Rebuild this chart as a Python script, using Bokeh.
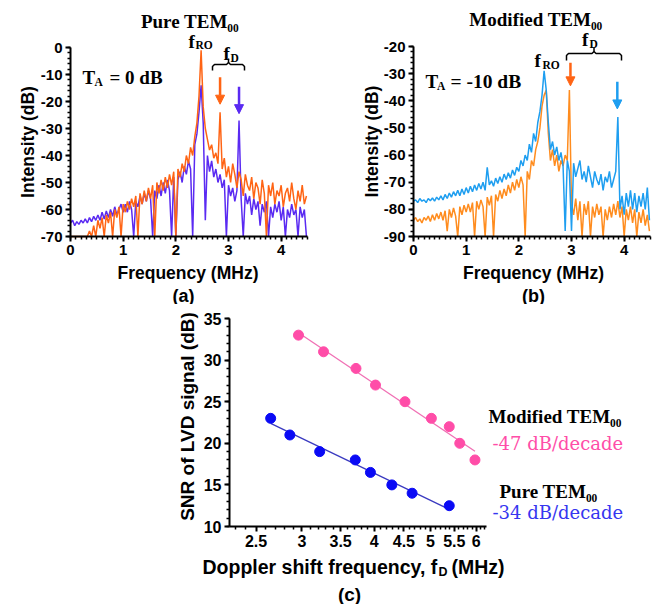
import math
import numpy as np
from bokeh.plotting import figure
from bokeh.layouts import column, row
from bokeh.models import (Label, Arrow, NormalHead, SingleIntervalTicker, FixedTicker,
                          Range1d, CustomJSTickFormatter)
from bokeh.embed import file_html
from bokeh.resources import INLINE

# ---------------- data ----------------
FREQ = [0.00, 0.04, 0.08, 0.12, 0.16, 0.20, 0.24, 0.28, 0.32, 0.36, 0.40, 0.44, 0.48,
        0.52, 0.56, 0.60, 0.64, 0.68, 0.72, 0.76, 0.80, 0.84, 0.88, 0.92, 0.96, 1.00,
        1.04, 1.08, 1.12, 1.16, 1.20, 1.24, 1.28, 1.32, 1.36, 1.40, 1.44, 1.48,
        1.52, 1.56, 1.60, 1.64, 1.68, 1.72, 1.76, 1.80, 1.84, 1.88, 1.92, 1.96, 2.00,
        2.04, 2.08, 2.12, 2.16, 2.20, 2.24, 2.28, 2.32,
        2.36, 2.40, 2.44, 2.48, 2.52, 2.56, 2.60, 2.64, 2.68, 2.72, 2.76, 2.80,
        2.84, 2.88, 2.92, 2.96, 3.00, 3.04, 3.08, 3.12, 3.16, 3.20, 3.24, 3.28,
        3.32, 3.36, 3.40, 3.44, 3.48, 3.52, 3.56, 3.60, 3.64, 3.68, 3.72, 3.76,
        3.80, 3.84, 3.88, 3.92, 3.96, 4.00, 4.04, 4.08, 4.12, 4.16, 4.20, 4.24,
        4.28, 4.32, 4.36, 4.40, 4.44, 4.48]

# (a) Pure TEM00, T_A = 0 dB  (values at the -70 dB floor are clipped by the display)
PURE_PURPLE = [-65, -64, -66, -64.5, -65.5, -64, -65, -63.5, -65, -63, -64.5, -62.5, -64,
               -62, -64, -61, -63.5, -60.5, -63, -60, -62.5, -59, -62, -60, -58, -61,
               -58, -61, -57, -60, -70, -57, -59, -55, -58, -54, -57, -53,
               -56, -70, -53, -56, -51, -55, -50, -54, -49, -53, -70, -48, -70,
               -49, -46, -50, -44, -47, -42, -45, -70,
               -36, -32, -24, -14, -28, -64, -40, -46, -42, -48, -45, -50,
               -47, -52, -49, -70, -51, -55, -52, -57, -53, -27, -56, -70,
               -54, -58, -55, -62, -56, -60, -57, -66, -58, -61, -57, -70,
               -59, -63, -58, -61, -57, -64, -59, -70, -60, -63, -58, -62,
               -60, -70, -59, -63, -60, -70]
PURE_ORANGE = [-70, -70, -70, -70, -70, -70, -70, -70, -70,
               -68, -70, -66, -70, -64, -67, -63, -70, -62, -65, -61, -70,
               -60, -63, -59, -70, -58, -61, -57, -60, -56, -59, -55, -70,
               -54, -58, -53, -57, -52, -56, -51, -70, -50, -54, -49, -53,
               -48, -52, -47, -51, -46, -70, -45, -48, -43, -46, -40, -43, -37, -40,
               -33, -28, -18, -1, -22, -30, -34, -38, -36, -41, -39, -43,
               -24, -45, -41, -48, -44, -50, -43, -47, -52, -46, -49, -55,
               -47, -51, -53, -48, -56, -50, -52, -58, -49, -54, -70, -51,
               -55, -50, -58, -53, -55, -51, -59, -54, -52, -57, -50, -56,
               -60, -53, -57, -51, -58, -55]

# (b) Modified TEM00, T_A = -10 dB
MOD_ORANGE = [-84, -83, -84.5, -83.5, -85, -83, -84, -82.5, -84.5, -82, -84, -81.5, -83.5,
              -81, -84, -80.5, -88, -80, -83, -79.5, -82.5, -90, -79, -82, -78.5, -81,
              -78, -81, -77.5, -90, -77, -80, -76.5, -79, -90, -75.5, -78.5, -75,
              -90, -74.5, -77, -73, -76, -72.5, -75, -71, -74, -70, -73, -69, -72,
              -68, -71, -90, -66, -69, -62, -64, -58,
              -55, -50, -42, -38, -36, -52, -62, -58, -64, -60, -66, -62,
              -64, -60, -62, -36, -78, -82, -76, -84, -77, -90, -78, -82,
              -77, -90, -79, -83, -78, -82, -79, -90, -80, -84, -79, -83,
              -78, -82, -77, -83, -79, -90, -80, -84, -79, -85, -80, -90,
              -81, -85, -80, -86, -82, -88]
MOD_BLUE = [-77, -76.5, -77.5, -76, -77, -76.5, -77.5, -76, -76.8, -75.8, -77, -75.5, -76.5,
            -75, -76.5, -74.5, -76, -74, -75.5, -73.5, -75, -73, -75, -72.5, -74.5, -72,
            -74, -71.5, -73.5, -71, -73, -70.5, -72.5, -70, -73, -64.5, -71, -69.5,
            -71.5, -68.5, -70.5, -68, -70, -67, -69, -66.5, -68.5, -65.5, -67.5, -64.5, -66,
            -62, -64, -60, -62, -56, -59, -52, -55,
            -48, -44, -38, -29, -36, -48, -58, -55, -60, -57, -62, -59,
            -64, -88, -62, -66, -88, -63, -68, -65, -62, -69, -66, -70,
            -64, -68, -72, -66, -69, -71, -67, -73, -68, -70, -66, -72,
            -69, -66, -46, -80, -75, -82, -74, -79, -73, -80, -74, -81,
            -75, -79, -74, -80, -72, -84]

# (c) SNR vs Doppler shift frequency
MOD_FD = [2.96, 3.27, 3.72, 4.02, 4.52, 5.02, 5.39, 5.62, 5.97]
MOD_SNR = [33.0, 31.0, 29.0, 27.0, 25.0, 23.0, 22.0, 20.0, 18.0]
PURE_FD = [2.65, 2.86, 3.22, 3.71, 3.94, 4.29, 4.65, 5.39]
PURE_SNR = [23.0, 21.0, 19.0, 18.0, 16.5, 15.0, 14.0, 12.5]
C_XTICKS = [2.5, 3, 3.5, 4, 4.5, 5, 5.5, 6]

# ---------------- style ----------------
SANS = "Liberation Sans"
SERIF = "Liberation Serif"
SERIF_WIDE = "DejaVu Serif"
PURPLE_A = "#5A2AF2"
ORANGE_A = "#FF6414"
ORANGE_B = "#FF8C1E"
BLUE_B = "#1E9EF0"
PINK = "#FF4DA8"
PINK_LINE = "#F070B4"
BLUE_C = "#0A0AF5"
BLUE_LINE = "#3A3AC0"
TOP_H = 304
LW = 1.5


def style_axes(p, tick_size):
    for ax in (p.xaxis[0], p.yaxis[0]):
        ax.axis_line_width = 2
        ax.axis_line_color = "black"
        ax.major_tick_line_width = 2
        ax.minor_tick_line_width = 1.5
        ax.major_tick_in = 0
        ax.major_tick_out = 5
        ax.minor_tick_in = 0
        ax.minor_tick_out = 3
        ax.major_label_text_font = SANS
        ax.major_label_text_font_style = "bold"
        ax.major_label_text_font_size = tick_size
        ax.major_label_text_color = "black"
        ax.major_label_standoff = 3
    p.grid.visible = False
    p.outline_line_color = None
    p.background_fill_color = "white"
    p.border_fill_color = "white"


def lab(p, x, y, text, size, font=SERIF, color="black", style="bold", align="left",
        baseline="alphabetic", angle=0.0):
    p.add_layout(Label(x=x, y=y, text=text, text_font=font, text_font_size=size,
                       text_color=color, text_font_style=style, text_align=align,
                       text_baseline=baseline, angle=angle))


# ---------------- panel (a) ----------------  (helpers take page pixel coordinates)
KXA = 237 / 4.5      # px per MHz
KYA = 189 / 70       # px per dB


def ax_(px):
    return (px - 70) / KXA


def ay_(py):
    return -(py - 47) / KYA


pa = figure(width=331, height=TOP_H, x_range=Range1d(ax_(0), ax_(331)),
            y_range=Range1d(ay_(TOP_H), ay_(0)), min_border=0,
            toolbar_location=None, output_backend="svg", title=None)
style_axes(pa, "15px")
pa.xaxis.fixed_location = -70
pa.xaxis.bounds = (0, 4.5)
pa.yaxis.fixed_location = 0
pa.yaxis.bounds = (-70, 0)
pa.xaxis.ticker = SingleIntervalTicker(interval=1, num_minor_ticks=10)
pa.yaxis.ticker = SingleIntervalTicker(interval=10, num_minor_ticks=5)
pa.xaxis.formatter = CustomJSTickFormatter(code="return tick.toFixed(0);")
pa.yaxis.formatter = CustomJSTickFormatter(code="return tick.toFixed(0);")
pa.line(FREQ, PURE_PURPLE, line_color=PURPLE_A, line_width=LW)
pa.line(FREQ, PURE_ORANGE, line_color=ORANGE_A, line_width=LW)

pa.multi_line(xs=[[ax_(212), ax_(212), ax_(214), ax_(226), ax_(228), ax_(228)],
                  [ax_(228), ax_(230), ax_(242), ax_(244), ax_(244)]],
              ys=[[ay_(70), ay_(66), ay_(64), ay_(64), ay_(62), ay_(58)],
                  [ay_(62), ay_(64), ay_(64), ay_(66), ay_(70)]],
              line_color="black", line_width=1.5)
pa.add_layout(Arrow(end=NormalHead(size=9, fill_color=ORANGE_A, line_color=ORANGE_A),
                    x_start=2.84, y_start=-11, x_end=2.84, y_end=-21,
                    line_color=ORANGE_A, line_width=2.5))
pa.add_layout(Arrow(end=NormalHead(size=9, fill_color=PURPLE_A, line_color=PURPLE_A),
                    x_start=3.2, y_start=-14.5, x_end=3.2, y_end=-24.5,
                    line_color=PURPLE_A, line_width=2.5))
lab(pa, ax_(189.5), ay_(20.5), "Pure TEM\u2080\u2080", "19px", align="center")
lab(pa, ax_(188), ay_(40.5), "f", "19px")
lab(pa, ax_(195), ay_(44.5), "RO", "11.5px")
lab(pa, ax_(223), ay_(53), "f", "19px")
lab(pa, ax_(230), ay_(57), "D", "11.5px")
lab(pa, ax_(82), ay_(77), "T", "19px")
lab(pa, ax_(94), ay_(81), "A", "11.5px")
lab(pa, ax_(109), ay_(77), "= 0 dB", "19px")
lab(pa, ax_(27), ay_(141.5), "Intensity (dB)", "17.5px", font=SANS,
    align="center", baseline="middle", angle=math.pi / 2)
lab(pa, ax_(187.5), ay_(272), "Frequency (MHz)", "17.5px", font=SANS, align="center")
lab(pa, ax_(183), ay_(295), "(a)", "18px", font=SANS, align="center")

# ---------------- panel (b) ----------------
KYB = 190 / 70


def bx_(px):
    return (px - 413) / KXA


def by_(py):
    return -20 - (py - 46) / KYB


pb = figure(width=332, height=TOP_H, x_range=Range1d(bx_(331), bx_(663)),
            y_range=Range1d(by_(TOP_H), by_(0)), min_border=0,
            toolbar_location=None, output_backend="svg", title=None)
style_axes(pb, "15px")
pb.xaxis.fixed_location = -90
pb.xaxis.bounds = (0, 4.5)
pb.yaxis.fixed_location = 0
pb.yaxis.bounds = (-90, -20)
pb.xaxis.ticker = SingleIntervalTicker(interval=1, num_minor_ticks=10)
pb.yaxis.ticker = SingleIntervalTicker(interval=10, num_minor_ticks=5)
pb.xaxis.formatter = CustomJSTickFormatter(code="return tick.toFixed(0);")
pb.yaxis.formatter = CustomJSTickFormatter(code="return tick.toFixed(0);")
pb.line(FREQ, MOD_ORANGE, line_color=ORANGE_B, line_width=LW)
pb.line(FREQ, MOD_BLUE, line_color=BLUE_B, line_width=LW)

pb.multi_line(xs=[[bx_(566), bx_(566), bx_(568), bx_(591.5), bx_(593.5), bx_(593.5)],
                  [bx_(593.5), bx_(595.5), bx_(619), bx_(621), bx_(621)]],
              ys=[[by_(60), by_(55), by_(53), by_(53), by_(51), by_(47)],
                  [by_(51), by_(53), by_(53), by_(55), by_(60)]],
              line_color="black", line_width=1.5)
pb.add_layout(Arrow(end=NormalHead(size=9, fill_color=ORANGE_A, line_color=ORANGE_A),
                    x_start=2.98, y_start=-26, x_end=2.98, y_end=-34.5,
                    line_color=ORANGE_A, line_width=2.5))
pb.add_layout(Arrow(end=NormalHead(size=9, fill_color=BLUE_B, line_color=BLUE_B),
                    x_start=3.87, y_start=-33, x_end=3.87, y_end=-43,
                    line_color=BLUE_B, line_width=2.5))
lab(pb, bx_(535.5), by_(18.5), "Modified TEM\u2080\u2080", "19px", align="center")
lab(pb, bx_(534), by_(60), "f", "19px")
lab(pb, bx_(542), by_(64), "RO", "11.5px")
lab(pb, bx_(581.5), by_(39), "f", "19px")
lab(pb, bx_(589), by_(43), "D", "11.5px")
lab(pb, bx_(425), by_(81), "T", "19px")
lab(pb, bx_(436.5), by_(85), "A", "11.5px")
lab(pb, bx_(450), by_(81), "= -10 dB", "19.5px")
lab(pb, bx_(371.7), by_(141), "Intensity (dB)", "17.5px", font=SANS,
    align="center", baseline="middle", angle=math.pi / 2)
lab(pb, bx_(533), by_(272), "Frequency (MHz)", "17.5px", font=SANS, align="center")
lab(pb, bx_(533), by_(295), "(b)", "18px", font=SANS, align="center")

# ---------------- panel (c) ----------------
LOG_SPAN = math.log10(6.25 / 2.25)


def cx_(px):
    return 10 ** (math.log10(2.25) + (px - 229) / 257 * LOG_SPAN)


def cy_(py):
    return 35 - (py - 318) / (208 / 25)


pc = figure(width=663, height=604 - TOP_H, x_axis_type="log", x_range=Range1d(cx_(0), cx_(663)),
            y_range=Range1d(cy_(604), cy_(TOP_H)), min_border=0,
            toolbar_location=None, output_backend="svg", title=None)
style_axes(pc, "16px")
pc.xaxis.fixed_location = 10
pc.xaxis.bounds = (2.25, 6.25)
pc.yaxis.fixed_location = 2.25
pc.yaxis.bounds = (10, 35)
minor_c = [round(2.3 + 0.1 * k, 1) for k in range(40)]
minor_c = [m for m in minor_c if m not in C_XTICKS]
pc.xaxis.ticker = FixedTicker(ticks=C_XTICKS, minor_ticks=minor_c)
pc.xaxis.formatter = CustomJSTickFormatter(code="return String(Math.round(tick*10)/10);")
pc.yaxis.ticker = SingleIntervalTicker(interval=5, num_minor_ticks=5)
pc.yaxis.formatter = CustomJSTickFormatter(code="return tick.toFixed(0);")

for fd, snr, lc, pcol in ((MOD_FD, MOD_SNR, PINK_LINE, PINK), (PURE_FD, PURE_SNR, BLUE_LINE, BLUE_C)):
    k, b = np.polyfit(np.log10(fd), snr, 1)
    xs = np.array([min(fd), max(fd)])
    pc.line(xs, k * np.log10(xs) + b, line_color=lc, line_width=1.3)
    pc.scatter(fd, snr, size=10, fill_color=pcol, line_color=pcol)

lab(pc, cx_(187), cy_(416), "SNR of LVD signal (dB)", "19px", font=SANS,
    align="center", baseline="middle", angle=math.pi / 2)
lab(pc, cx_(202), cy_(566.5), "Doppler shift frequency, f", "19.5px", font=SANS)
lab(pc, cx_(438), cy_(571.5), "D", "12.5px", font=SANS)
lab(pc, cx_(451), cy_(566.5), "(MHz)", "19.5px", font=SANS)
lab(pc, cx_(349), cy_(594), "(c)", "19px", font=SANS, align="center")
lab(pc, cx_(488), cy_(416), "Modified TEM\u2080\u2080", "19px")
lab(pc, cx_(492), cy_(442.5), "-47 dB/decade", "18px", font=SERIF_WIDE, style="normal", color=PINK)
lab(pc, cx_(499), cy_(491), "Pure TEM\u2080\u2080", "19px")
lab(pc, cx_(492), cy_(512), "-34 dB/decade", "18px", font=SERIF_WIDE, style="normal", color="#3636F0")

layout = column(row(pa, pb), pc)
open("out.html", "w").write(file_html(layout, INLINE))
